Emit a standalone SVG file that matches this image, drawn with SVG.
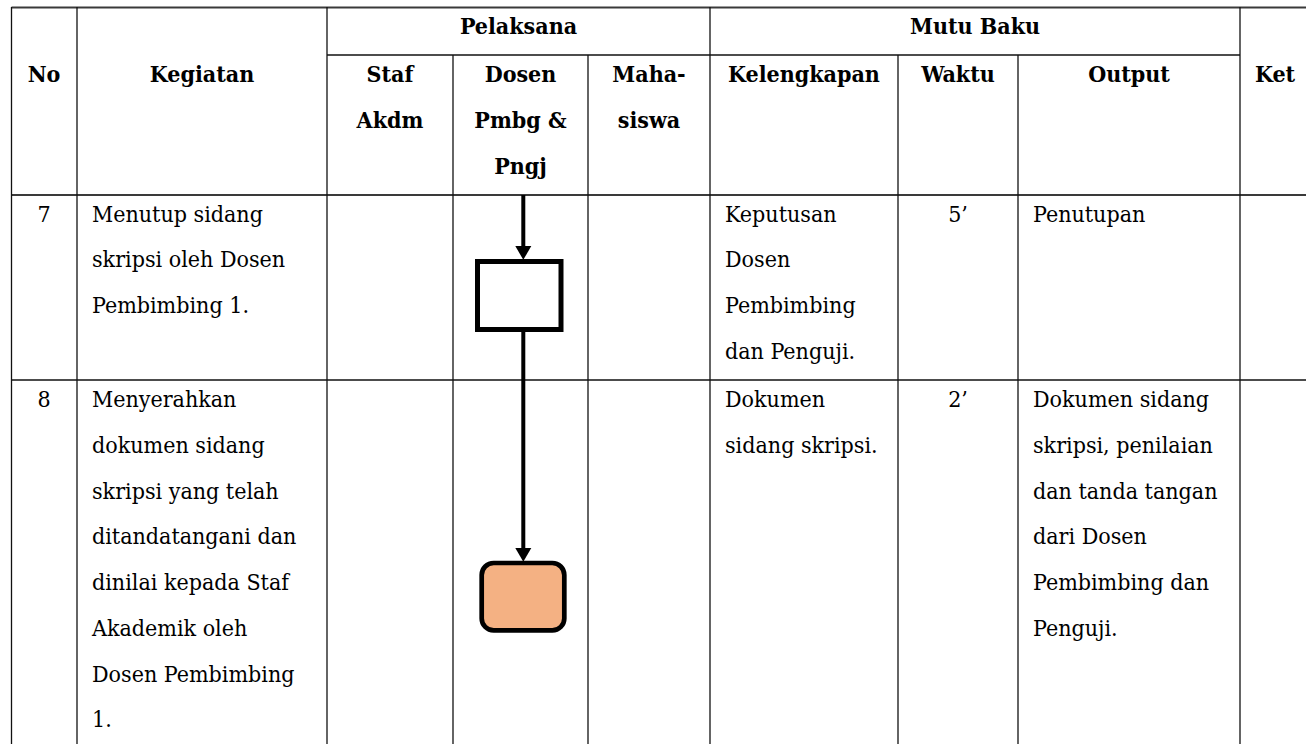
<svg xmlns="http://www.w3.org/2000/svg" width="1306" height="744" viewBox="0 0 1306 744">
<style>
.h{stroke:#3a3a3a;stroke-width:2;fill:none}
.v{stroke:#111;stroke-width:1.3;fill:none}
text{font-family:"DejaVu Serif Condensed","DejaVu Serif",serif;font-stretch:condensed;font-size:23px;fill:#000}
.b{font-weight:bold;text-anchor:middle}
.c{text-anchor:middle}
.conn{stroke:#000;stroke-width:4;fill:none}
</style>
<defs>
<marker id="ah" markerUnits="userSpaceOnUse" markerWidth="14" markerHeight="16" refX="0" refY="7.5" orient="auto" viewBox="0 0 13 15" overflow="visible">
<path d="M0,0 L13,7.5 L0,15 Z" fill="#000"/>
</marker>
</defs>
<rect width="1306" height="744" fill="#fff"/>
<g id="grid">
<line class="h" x1="11.5" y1="7.5" x2="1306" y2="7.5"/>
<line class="v" x1="327" y1="55" x2="1240" y2="55"/>
<line class="h" x1="11.5" y1="195" x2="1306" y2="195"/>
<line class="v" x1="11.5" y1="380" x2="1306" y2="380"/>
<line class="v" x1="11.5" y1="7" x2="11.5" y2="744"/>
<line class="v" x1="77" y1="7" x2="77" y2="744"/>
<line class="v" x1="327" y1="7" x2="327" y2="744"/>
<line class="v" x1="453" y1="55" x2="453" y2="744"/>
<line class="v" x1="588" y1="55" x2="588" y2="744"/>
<line class="v" x1="710" y1="7" x2="710" y2="744"/>
<line class="v" x1="898" y1="55" x2="898" y2="744"/>
<line class="v" x1="1018" y1="55" x2="1018" y2="744"/>
<line class="v" x1="1240" y1="7" x2="1240" y2="744"/>
</g>
<g id="header">
<text class="b" x="518.5" y="34">Pelaksana</text>
<text class="b" x="975" y="34">Mutu Baku</text>
<text class="b" x="44" y="82">No</text>
<text class="b" x="202" y="82">Kegiatan</text>
<text class="b" x="390" y="82">Staf</text>
<text class="b" x="390" y="128">Akdm</text>
<text class="b" x="520.5" y="82">Dosen</text>
<text class="b" x="520.5" y="128">Pmbg &amp;</text>
<text class="b" x="520.5" y="174">Pngj</text>
<text class="b" x="649" y="82">Maha-</text>
<text class="b" x="649" y="128">siswa</text>
<text class="b" x="804" y="82">Kelengkapan</text>
<text class="b" x="958" y="82">Waktu</text>
<text class="b" x="1129" y="82">Output</text>
<text class="b" x="1275" y="82">Ket</text>
</g>
<g id="row7">
<text class="c" x="44" y="221.5">7</text>
<text x="92"><tspan x="92" y="221.5">Menutup sidang</tspan><tspan x="92" y="267.25">skripsi oleh Dosen</tspan><tspan x="92" y="313">Pembimbing 1.</tspan></text>
<text x="725"><tspan x="725" y="221.5">Keputusan</tspan><tspan x="725" y="267.25">Dosen</tspan><tspan x="725" y="313">Pembimbing</tspan><tspan x="725" y="358.75">dan Penguji.</tspan></text>
<text class="c" x="958" y="221.5">5’</text>
<text x="1033" y="221.5">Penutupan</text>
</g>
<g id="row8">
<text class="c" x="44" y="407">8</text>
<text x="92"><tspan x="92" y="407">Menyerahkan</tspan><tspan x="92" y="452.75">dokumen sidang</tspan><tspan x="92" y="498.5">skripsi yang telah</tspan><tspan x="92" y="544.25">ditandatangani dan</tspan><tspan x="92" y="590">dinilai kepada Staf</tspan><tspan x="92" y="635.75">Akademik oleh</tspan><tspan x="92" y="681.5">Dosen Pembimbing</tspan><tspan x="92" y="727.25">1.</tspan></text>
<text x="725"><tspan x="725" y="407">Dokumen</tspan><tspan x="725" y="452.75">sidang skripsi.</tspan></text>
<text class="c" x="958" y="407">2’</text>
<text x="1033"><tspan x="1033" y="407">Dokumen sidang</tspan><tspan x="1033" y="452.75">skripsi, penilaian</tspan><tspan x="1033" y="498.5">dan tanda tangan</tspan><tspan x="1033" y="544.25">dari Dosen</tspan><tspan x="1033" y="590">Pembimbing dan</tspan><tspan x="1033" y="635.75">Penguji.</tspan></text>
</g>
<g id="connectors">
<line class="conn" x1="523.3" y1="195" x2="523.3" y2="246" marker-end="url(#ah)"/>
<line class="conn" x1="523.3" y1="332" x2="523.3" y2="548" marker-end="url(#ah)"/>
</g>
<g id="node-process">
<rect x="477.5" y="261.5" width="83.5" height="68" fill="#fff" stroke="#000" stroke-width="5"/>
</g>
<g id="node-end">
<rect x="481.7" y="563" width="82.6" height="67.4" rx="12" ry="12" fill="#F4B183" stroke="#000" stroke-width="4.7"/>
</g>
</svg>
